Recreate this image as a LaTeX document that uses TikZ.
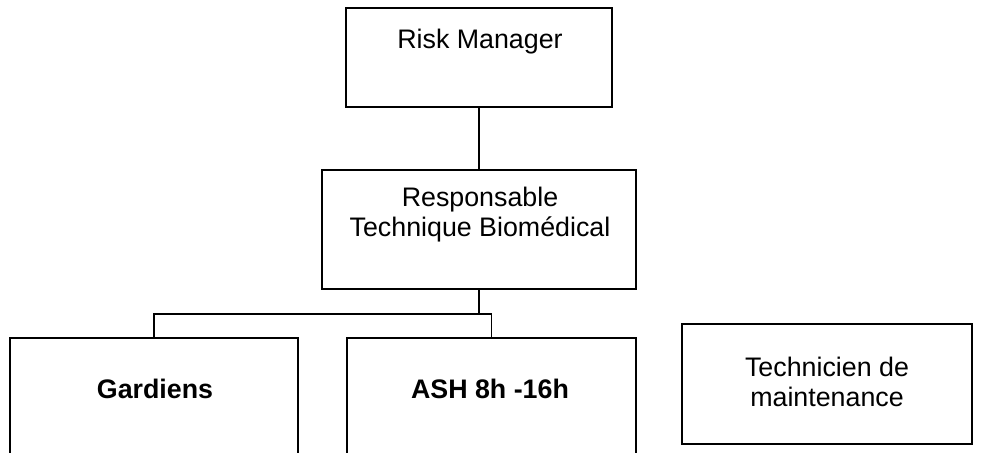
\documentclass[tikz,border=0pt]{standalone}
\usepackage{fontspec}
\setmainfont{Liberation Sans}

\begin{document}
\begin{tikzpicture}[x=0.5pt,y=-0.5pt,line width=0.7pt,
   every node/.style={font=\fontsize{13.4}{15}\selectfont},
   box/.style={draw,inner sep=0pt},
   txt/.style={align=center,inner sep=0pt}]
\useasboundingbox (0,0) rectangle (984,452);
\clip (0,0) rectangle (984,452);
% boxes
\node[box,minimum width=133pt,minimum height=49.5pt] (rm) at (479,57.5) {};
\node[box,minimum width=157pt,minimum height=59.5pt] (resp) at (479,229.5) {};
\node[box,minimum width=144pt,minimum height=66pt] (gard) at (154,404) {};
\node[box,minimum width=144.5pt,minimum height=66pt] (ash) at (491.5,404) {};
\node[box,minimum width=145pt,minimum height=60pt] (tech) at (827,384) {};
% texts
\node[txt] (rmtxt) at (480,42) {Risk Manager};
\node[txt] (resptxt) at (480,215) {Responsable\\Technique Biomédical};
\node[txt,font=\fontsize{13.4}{15}\selectfont\bfseries] (gardtxt) at (155,389) {Gardiens};
\node[txt,font=\fontsize{13.4}{15}\selectfont\bfseries] (ashtxt) at (490,389) {ASH 8h -16h};
\node[txt] (techtxt) at (827,382) {Technicien de\\maintenance};
% links
\coordinate (split) at (479,314);
\draw (rm.south) -- (resp.north);
\draw (resp.south) -- (split);
\draw (gard.north) |- (split) -| (ash.north);
\end{tikzpicture}
\end{document}
